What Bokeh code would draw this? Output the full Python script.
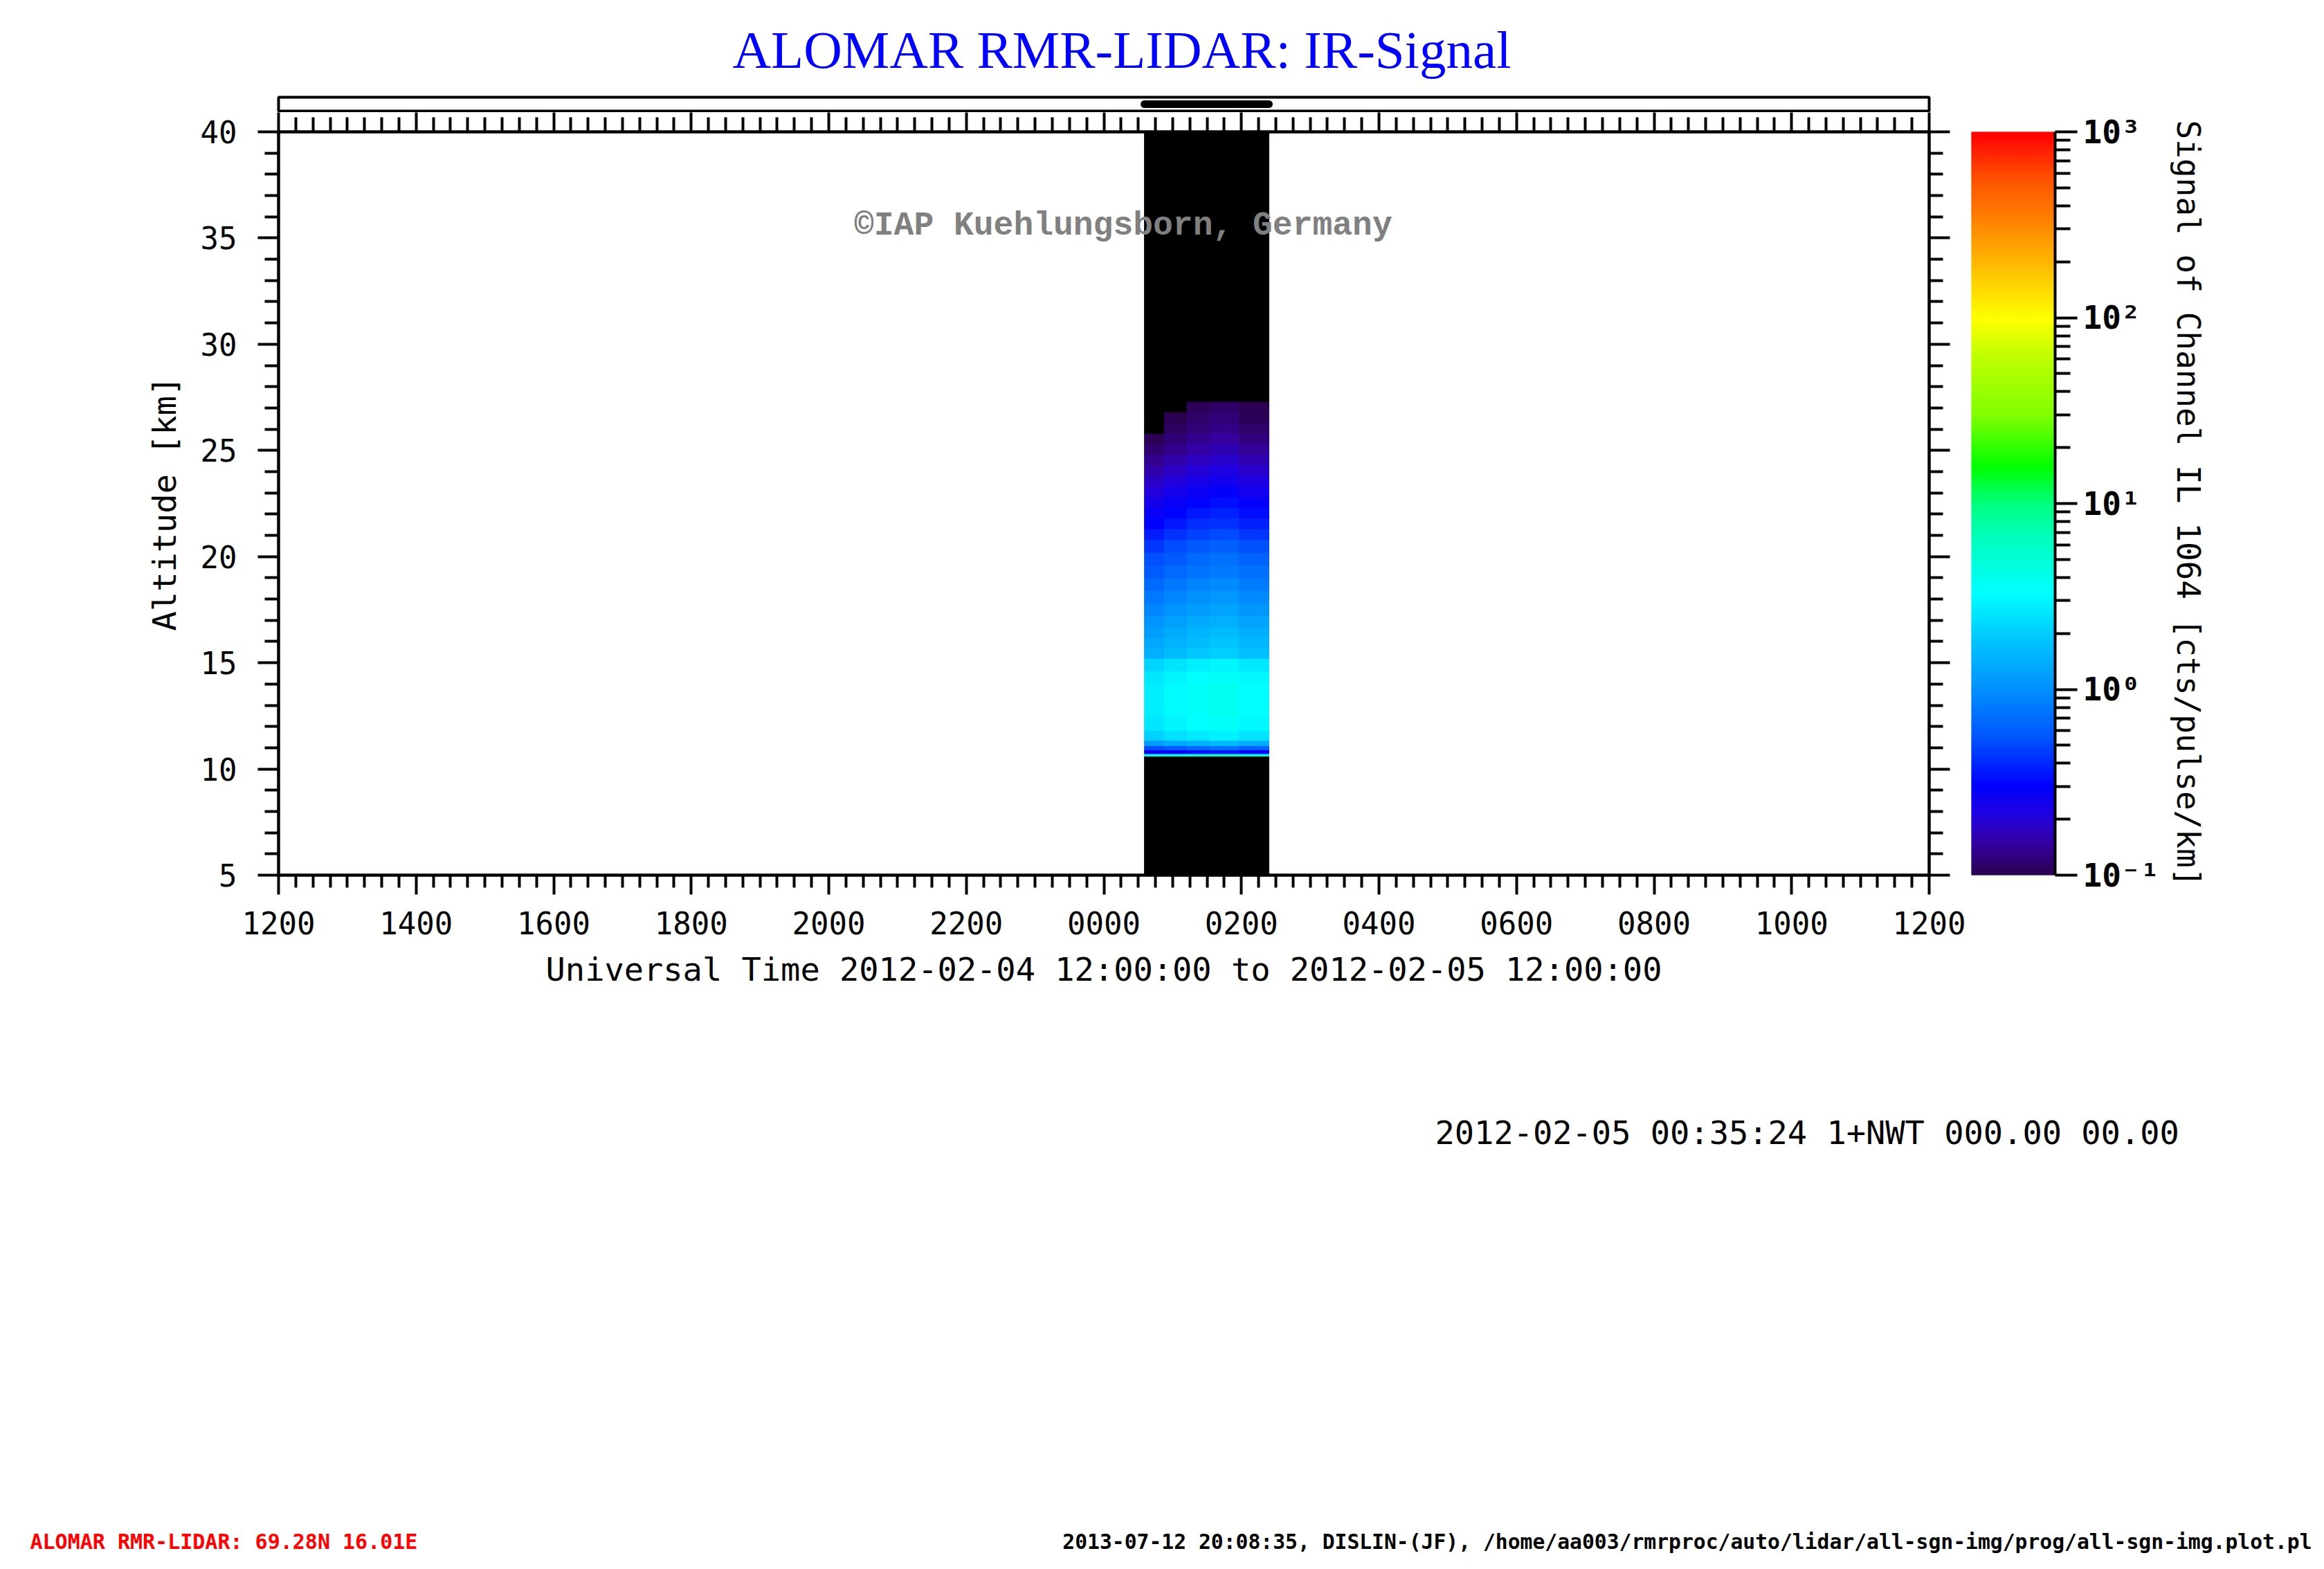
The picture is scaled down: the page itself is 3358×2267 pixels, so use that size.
import numpy as np
from bokeh.plotting import figure
from bokeh.models import (Range1d, FixedTicker, LinearAxis, Label, LogColorMapper,
                          ColumnDataSource)
from bokeh.layouts import column, row
from bokeh.embed import file_html
from bokeh.resources import INLINE

# ---------------- data ----------------
x_tick_hours = [0, 2, 4, 6, 8, 10, 12, 14, 16, 18, 20, 22, 24]   # hours after 2012-02-04 12:00 UT
x_tick_labels = ["1200", "1400", "1600", "1800", "2000", "2200", "0000",
                 "0200", "0400", "0600", "0800", "1000", "1200"]
y_ticks = [5, 10, 15, 20, 25, 30, 35, 40]
cbar_ticks = [0.1, 1, 10, 100, 1000]
cbar_tick_labels = ["10\u207b\u00b9", "10\u2070", "10\u00b9", "10\u00b2", "10\u00b3"]

# measurement time blocks (hours after 2012-02-04 12:00 UT)
block_start = [12.59, 12.88, 13.21, 13.54, 13.97]
block_end = [12.88, 13.21, 13.54, 13.97, 14.40]
block_offset = [-0.08, -0.02, 0.03, 0.06, 0.00]      # log10 brightness offset per block

# altitude bins [km] and log10 of signal (cts/pulse/km); None = no signal
alt_bottom = [5.0, 10.6, 10.72, 10.9, 11.1, 11.35, 11.8, 12.5, 14.0, 14.6, 15.2, 15.7,
              16.2, 16.7, 17.2, 17.8, 18.4, 19.0, 19.6, 20.2, 20.8, 21.3, 21.8, 22.3,
              22.8, 23.3, 23.8, 24.3, 24.8, 25.3, 25.8, 26.3, 26.8, 27.3]
alt_top = [10.6, 10.72, 10.9, 11.1, 11.35, 11.8, 12.5, 14.0, 14.6, 15.2, 15.7, 16.2,
           16.7, 17.2, 17.8, 18.4, 19.0, 19.6, 20.2, 20.8, 21.3, 21.8, 22.3, 22.8,
           23.3, 23.8, 24.3, 24.8, 25.3, 25.8, 26.3, 26.8, 27.3, 40.0]
log_signal = [None, 0.70, -0.50, -0.20, 0.15, 0.40, 0.50, 0.53, 0.50, 0.42, 0.25, 0.20,
              0.15, 0.10, 0.04, -0.02, -0.08, -0.14, -0.20, -0.27, -0.35, -0.42, -0.48,
              -0.54, -0.60, -0.66, -0.72, -0.79, -0.85, -0.90, -0.94, -0.97, -1.00, None]

title_text = "ALOMAR RMR-LIDAR: IR-Signal"
xlabel_text = "Universal Time 2012-02-04 12:00:00 to 2012-02-05 12:00:00"
ylabel_text = "Altitude [km]"
cbar_label_text = "Signal of Channel IL 1064 [cts/pulse/km]"
copyright_text = "\u00a9IAP Kuehlungsborn, Germany"
stamp_text = "2012-02-05 00:35:24 1+NWT 000.00 00.00"
station_text = "ALOMAR RMR-LIDAR: 69.28N 16.01E"
footer_text = "2013-07-12 20:08:35, DISLIN-(JF), /home/aa003/rmrproc/auto/lidar/all-sgn-img/prog/all-sgn-img.plot.pl"

# ---------------- palette ----------------
anchors = [(0.00, "#2c0050"), (0.04, "#3400a0"), (0.08, "#2000e0"), (0.12, "#0000ff"),
           (0.18, "#0050ff"), (0.25, "#0090ff"), (0.31, "#00c0ff"), (0.38, "#00ffff"),
           (0.45, "#00ffc0"), (0.50, "#00ff80"), (0.55, "#00ff00"), (0.62, "#80ff00"),
           (0.70, "#c0ff00"), (0.75, "#ffff00"), (0.85, "#ffa000"), (0.94, "#ff5000"),
           (1.00, "#ff0000")]


def hex2rgb(h):
    return [int(h[i:i + 2], 16) for i in (1, 3, 5)]


N = 256
af = np.array([a[0] for a in anchors])
ac = np.array([hex2rgb(a[1]) for a in anchors], dtype=float)
palette = []
for k in range(N):
    f = k / (N - 1)
    rgb = [np.interp(f, af, ac[:, c]) for c in range(3)]
    palette.append("#%02x%02x%02x" % tuple(int(round(v)) for v in rgb))

mapper = LogColorMapper(palette=palette, low=0.1, high=1000, low_color="black",
                        nan_color="black", high_color="#ff0000")

MONO = "DejaVu Sans Mono"
W = 3342
FL, FR = 402, 2787          # frame left / right on canvas
S_H = 162
FRAME_TOP = 190
FRAME_H = 1074
M_H = 1304
M_W = 2848
C_W = W - M_W
B_H = 2251 - S_H - M_H
TOP_BORDER = FRAME_TOP - S_H
BOTTOM_BORDER = M_H - TOP_BORDER - FRAME_H
LW = 4

xr = Range1d(0, 24)

# ---------------- top strip ----------------
S = figure(width=W, height=S_H, x_range=xr, y_range=Range1d(0, 1),
           output_backend="svg", toolbar_location=None,
           x_axis_location=None, y_axis_location=None,
           title=title_text, title_location="above",
           min_border_left=FL, min_border_right=W - FR,
           min_border_top=S_H - 2 - 26, min_border_bottom=2)
S.grid.visible = False
S.outline_line_color = "black"
S.outline_line_width = LW
S.title.align = "left"
S.title.offset = 656
S.title.text_font = "Liberation Serif"
S.title.text_font_size = "77px"
S.title.text_font_style = "normal"
S.title.text_color = "#0000ff"
S.title.standoff = 52
S.segment(x0=[block_start[0]], x1=[block_end[-1]], y0=[0.5], y1=[0.5],
          line_width=11, line_cap="round", line_color="black")

# ---------------- main plot ----------------
M = figure(width=M_W, height=M_H, x_range=xr, y_range=Range1d(5, 40),
           output_backend="svg", toolbar_location=None,
           min_border_left=FL, min_border_right=M_W - FR,
           min_border_top=TOP_BORDER, min_border_bottom=BOTTOM_BORDER)
M.grid.visible = False
M.outline_line_color = "black"
M.outline_line_width = LW

lefts, rights, bottoms, tops, vals = [], [], [], [], []
for j in range(len(block_start)):
    for i in range(len(alt_bottom)):
        lefts.append(block_start[j])
        rights.append(block_end[j])
        bottoms.append(alt_bottom[i])
        tops.append(alt_top[i])
        v = log_signal[i]
        vals.append(np.nan if v is None else 10 ** (v + block_offset[j]))
src = ColumnDataSource(dict(left=np.array(lefts), right=np.array(rights),
                            bottom=np.array(bottoms), top=np.array(tops),
                            val=np.array(vals)))
M.quad(left="left", right="right", bottom="bottom", top="top", source=src,
       fill_color={"field": "val", "transform": mapper},
       line_color={"field": "val", "transform": mapper}, line_width=1)

M.add_layout(Label(x=12.28, y=35.6, text=copyright_text, text_align="center",
                   text_baseline="middle", text_font="Liberation Mono",
                   text_font_style="bold", text_font_size="48px",
                   text_color="#808080"))

minor_x = [i * 0.25 for i in range(97) if i % 8 != 0]
xticker = FixedTicker(ticks=x_tick_hours, minor_ticks=minor_x)
minor_y = [v for v in range(5, 41) if v % 5 != 0]
yticker = FixedTicker(ticks=y_ticks, minor_ticks=minor_y)

xa = M.xaxis[0]
xa.ticker = xticker
xa.major_label_overrides = {h: lab for h, lab in zip(x_tick_hours, x_tick_labels)}
xa.axis_label = xlabel_text

ya = M.yaxis[0]
ya.ticker = yticker
ya.axis_label = ylabel_text


def style_axis(ax, major, minor):
    ax.axis_line_width = LW
    ax.major_tick_line_width = LW
    ax.minor_tick_line_width = LW
    ax.major_tick_in = 0
    ax.minor_tick_in = 0
    ax.major_tick_out = major
    ax.minor_tick_out = minor
    ax.major_label_text_font = MONO
    ax.major_label_text_font_size = "44px"
    ax.major_label_text_color = "black"
    ax.axis_label_text_font = MONO
    ax.axis_label_text_font_size = "47px"
    ax.axis_label_text_font_style = "normal"
    ax.axis_label_text_color = "black"


style_axis(xa, 28, 18)
xa.major_label_standoff = 24
xa.axis_label_standoff = 20
style_axis(ya, 30, 20)
ya.major_label_standoff = 30
ya.axis_label_standoff = 22

top_ax = LinearAxis(ticker=xticker)
style_axis(top_ax, 28, 21)
top_ax.major_label_overrides = {h: "" for h in x_tick_hours}
top_ax.major_label_text_font_size = "0px"
top_ax.major_label_standoff = 0
M.add_layout(top_ax, "above")

right_ax = LinearAxis(ticker=yticker)
style_axis(right_ax, 30, 20)
right_ax.major_label_overrides = {t: "" for t in y_ticks}
right_ax.major_label_text_font_size = "0px"
right_ax.major_label_standoff = 0
M.add_layout(right_ax, "right")

# ---------------- colour bar ----------------
C = figure(width=C_W, height=M_H, x_range=Range1d(0, 1), y_range=Range1d(0.1, 1000),
           y_axis_type="log", y_axis_location="right", x_axis_location=None,
           output_backend="svg", toolbar_location=None,
           min_border_left=0, min_border_right=C_W - 121,
           min_border_top=TOP_BORDER, min_border_bottom=BOTTOM_BORDER)
C.grid.visible = False
C.outline_line_color = None
levels = [10 ** (-1 + 4 * k / N) for k in range(N + 1)]
C.quad(left=0, right=1, bottom=levels[:-1], top=levels[1:], fill_color=palette,
       line_color=palette, line_width=1)
ca = C.yaxis[0]
minor_c = [m * 10 ** e for e in range(-1, 3) for m in range(2, 10)]
ca.ticker = FixedTicker(ticks=cbar_ticks, minor_ticks=minor_c)
ca.major_label_overrides = {t: lab for t, lab in zip(cbar_ticks, cbar_tick_labels)}
style_axis(ca, 32, 22)
ca.major_label_text_font_style = "bold"
ca.major_label_text_font_size = "46px"
ca.major_label_standoff = 8
ca.axis_label = cbar_label_text
ca.axis_label_text_font_size = "46px"
ca.axis_label_standoff = 12

# ---------------- bottom texts ----------------
B = figure(width=W, height=B_H, x_range=Range1d(0, W), y_range=Range1d(B_H, 0),
           output_backend="svg", toolbar_location=None,
           x_axis_location=None, y_axis_location=None, min_border=0)
B.grid.visible = False
B.outline_line_color = None
B.add_layout(Label(x=2073, y=170, text=stamp_text, text_align="left",
                   text_baseline="middle", text_font=MONO, text_font_size="47px",
                   text_color="black"))
B.add_layout(Label(x=43, y=761, text=station_text, text_align="left",
                   text_baseline="middle", text_font=MONO, text_font_style="bold",
                   text_font_size="30px", text_color="#ff0000"))
B.add_layout(Label(x=3340, y=761, text=footer_text, text_align="right",
                   text_baseline="middle", text_font=MONO, text_font_style="bold",
                   text_font_size="29.7px", text_color="black"))

top_part = column(S, row(M, C))
p = [top_part, B]
open("out.html", "w").write(file_html(p, INLINE))
